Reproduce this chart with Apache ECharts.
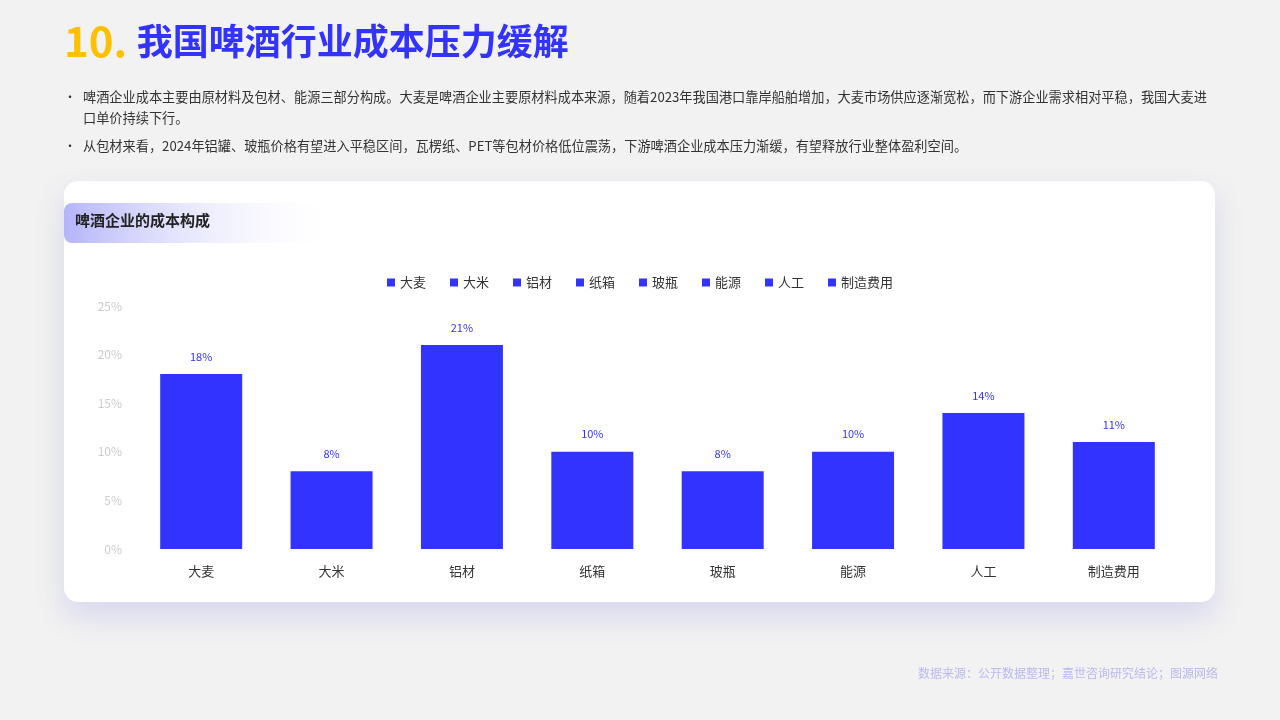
<!DOCTYPE html>
<html><head><meta charset="utf-8">
<script src="https://cdn.jsdelivr.net/npm/echarts@6/dist/echarts.min.js"></script>
<style>html,body{margin:0;padding:0;background:#f2f2f2;}#c{width:1280px;height:720px;}</style>
</head><body><div id="c"></div>
<script>
const categories = ['大麦','大米','铝材','纸箱','玻瓶','能源','人工','制造费用'];
const values = [18, 8, 21, 10, 8, 10, 14, 11];
const yTicks = [0, 5, 10, 15, 20, 25];
const blue = '#3333FF';
const font = '"Noto Sans CJK SC", "Noto Sans", sans-serif';
const chart = echarts.init(document.getElementById('c'));
const series = categories.map((name, i) => ({
  name, type: 'bar', stack: 'all', barWidth: 82,
  itemStyle: {color: blue},
  label: {show: true, position: 'top', distance: 12, formatter: '{c}%', color: blue, fontSize: 11, fontFamily: font},
  data: categories.map((c, j) => j === i ? values[i] : null)
}));
chart.setOption({
  backgroundColor: '#f2f2f2',
  textStyle: {fontFamily: font},
  graphic: [
    {type: 'rect', shape: {x: 64, y: 181, width: 1151, height: 421, r: 14}, style: {fill: '#fff', shadowBlur: 30, shadowOffsetY: 14, shadowColor: 'rgba(90,90,220,0.18)'}, z: -10},
    {type: 'rect', shape: {x: 64, y: 203, width: 280, height: 40, r: [8,0,0,8]}, style: {fill: new echarts.graphic.LinearGradient(0,0,1,0,[{offset:0,color:'#b4b4fa'},{offset:1,color:'rgba(255,255,255,0)'}])}, z: -5},
    {type: 'text', left: 75, top: 213, style: {text: '啤酒企业的成本构成', fill: '#222', font: 'bold 15px ' + font}},
    {type: 'text', left: 64, top: 20, style: {rich: {a: {fill: '#FFC000', font: 'bold 42px ' + font}, b: {fill: blue, font: 'bold 36px ' + font}}, text: '{a|10. }{b|我国啤酒行业成本压力缓解}'}},
    {type: 'text', left: 64, top: 91, style: {text: '•', fill: '#333', font: '12px ' + font}},
    {type: 'text', left: 83, top: 90, style: {text: '啤酒企业成本主要由原材料及包材、能源三部分构成。大麦是啤酒企业主要原材料成本来源，随着2023年我国港口靠岸船舶增加，大麦市场供应逐渐宽松，而下游企业需求相对平稳，我国大麦进', fill: '#333', font: '13.2px ' + font}},
    {type: 'text', left: 83, top: 111, style: {text: '口单价持续下行。', fill: '#333', font: '13.2px ' + font}},
    {type: 'text', left: 64, top: 140, style: {text: '•', fill: '#333', font: '12px ' + font}},
    {type: 'text', left: 83, top: 139, style: {text: '从包材来看，2024年铝罐、玻瓶价格有望进入平稳区间，瓦楞纸、PET等包材价格低位震荡，下游啤酒企业成本压力渐缓，有望释放行业整体盈利空间。', fill: '#333', font: '13.2px ' + font}},
    {type: 'text', right: 62, top: 667, style: {text: '数据来源：公开数据整理；嘉世咨询研究结论；图源网络', fill: '#b9b9ef', font: '12px ' + font}}
  ],
  legend: {top: 271, left: 'center', itemWidth: 8, itemHeight: 8, itemGap: 24, icon: 'rect', textStyle: {color: '#333', fontSize: 13}, data: categories},
  grid: {left: 136, right: 101, top: 306, bottom: 171},
  xAxis: {type: 'category', data: categories, axisLine: {show: false}, axisTick: {show: false}, axisLabel: {color: '#333', fontSize: 13, margin: 16}},
  yAxis: {type: 'value', min: 0, max: 25, interval: 5, splitLine: {show: false}, axisLabel: {formatter: '{value}%', color: '#ccc', fontSize: 12, margin: 14}},
  series
});
</script></body></html>
